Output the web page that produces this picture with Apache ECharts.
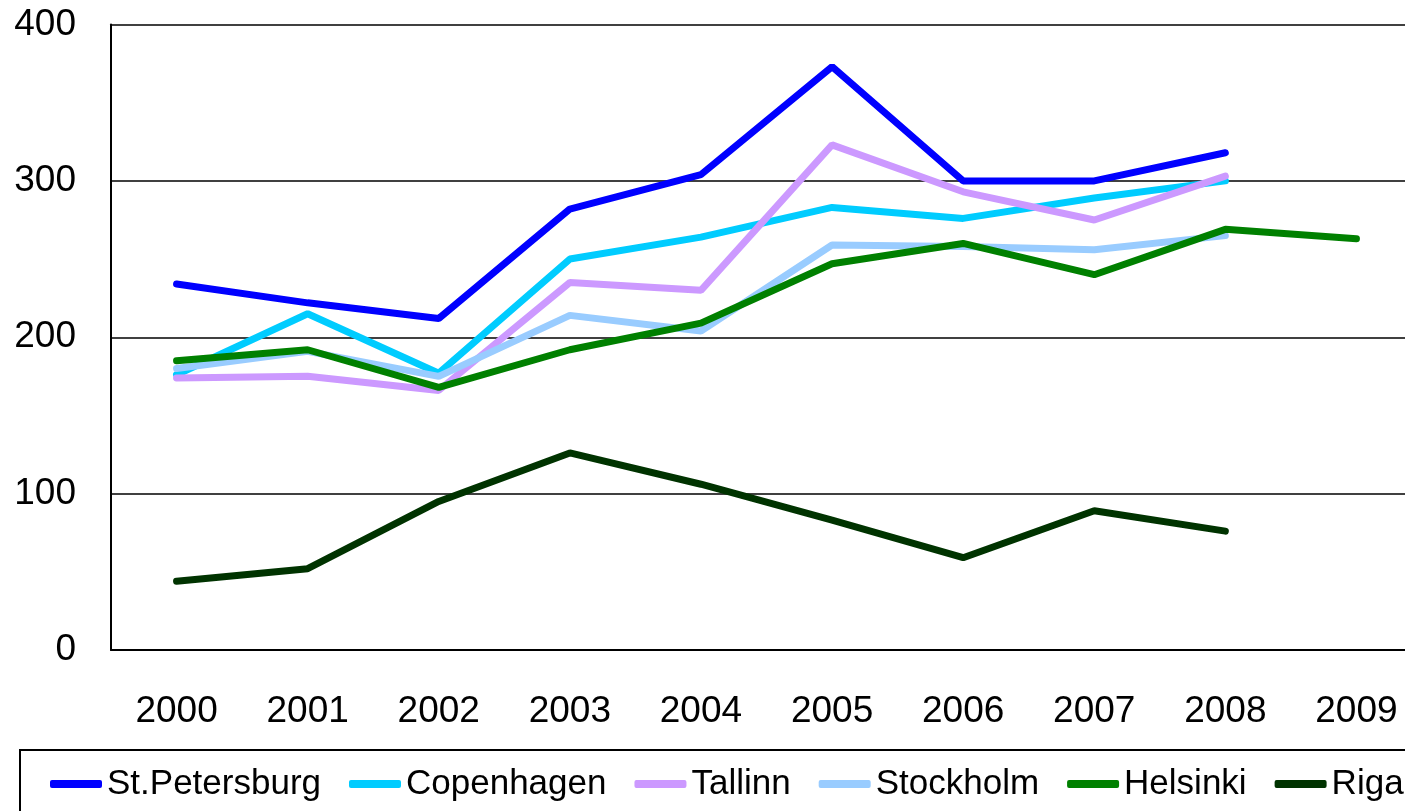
<!DOCTYPE html>
<html>
<head>
<meta charset="utf-8">
<script src="https://cdn.jsdelivr.net/npm/echarts@6/dist/echarts.min.js"></script>
<style>
  html, body { margin: 0; padding: 0; background: #fff; }
  #chart { width: 1405px; height: 811px; }
</style>
</head>
<body>
<div id="chart"></div>
<script>
// years on the x axis
const years = ['2000', '2001', '2002', '2003', '2004', '2005', '2006', '2007', '2008', '2009'];

// values (null = no point)
const stPetersburg = [234, 222, 212, 282, 304, 373, 300, 300, 318, null];
const copenhagen   = [176, 215, 177, 250, 264, 283, 276, 289, 300, null];
const tallinn      = [174, 175, 166, 235, 230, 323, 293, 275, 303, null];
const stockholm    = [180, 191, 175, 214, 204, 259, 258, 256, 265, null];
const helsinki     = [185, 192, 168, 192, 209, 247, 260, 240, 269, 263];
const riga         = [44, 52, 95, 126, 106, 83, 59, 89, 76, null];

const names  = ['St.Petersburg', 'Copenhagen', 'Tallinn', 'Stockholm', 'Helsinki', 'Riga'];
const values = [stPetersburg, copenhagen, tallinn, stockholm, helsinki, riga];
const colors = ['#0000ff', '#00ccff', '#cc99ff', '#99ccff', '#008000', '#003300'];

const font = 'Liberation Sans, Arial, sans-serif';

let myChart = echarts.init(document.getElementById('chart'));
let option = {
    backgroundColor: '#fff',
    animation: false,
    color: colors,
    grid: {
        left: 111,
        top: 24.5,
        right: -17,
        bottom: 161,
        outerBoundsMode: 'none'   // let the last category run past the page edge
    },
    legend: {
        left: 20,
        top: 750,
        width: 1500,
        padding: [15, 20, 40, 30],
        borderColor: '#000',
        borderWidth: 2,
        icon: 'roundRect',
        itemWidth: 52,
        itemHeight: 8,
        itemGap: 28,
        textStyle: {
            color: '#000',
            fontSize: 35,
            lineHeight: 38,
            fontFamily: font
        },
        data: names
    },
    xAxis: {
        type: 'category',
        data: years,
        boundaryGap: true,
        axisLine: { lineStyle: { color: '#000', width: 2 } },
        axisTick: { show: false },
        axisLabel: {
            color: '#000',
            fontSize: 37,
            fontFamily: font,
            margin: 43
        }
    },
    yAxis: {
        type: 'value',
        min: 0,
        max: 400,
        interval: 100,
        axisLine: { show: true, lineStyle: { color: '#000', width: 2 } },
        axisTick: { show: false },
        splitLine: { lineStyle: { color: '#000', width: 1.5 } },
        axisLabel: {
            color: '#000',
            fontSize: 37,
            fontFamily: font,
            margin: 35,
            padding: [4, 0, 0, 0]
        }
    },
    series: names.map((n, i) => ({
        name: n,
        type: 'line',
        data: values[i],
        showSymbol: false,
        symbol: 'none',
        lineStyle: { width: 7, cap: 'round' }
    }))
};
myChart.setOption(option, true);
</script>
</body>
</html>
